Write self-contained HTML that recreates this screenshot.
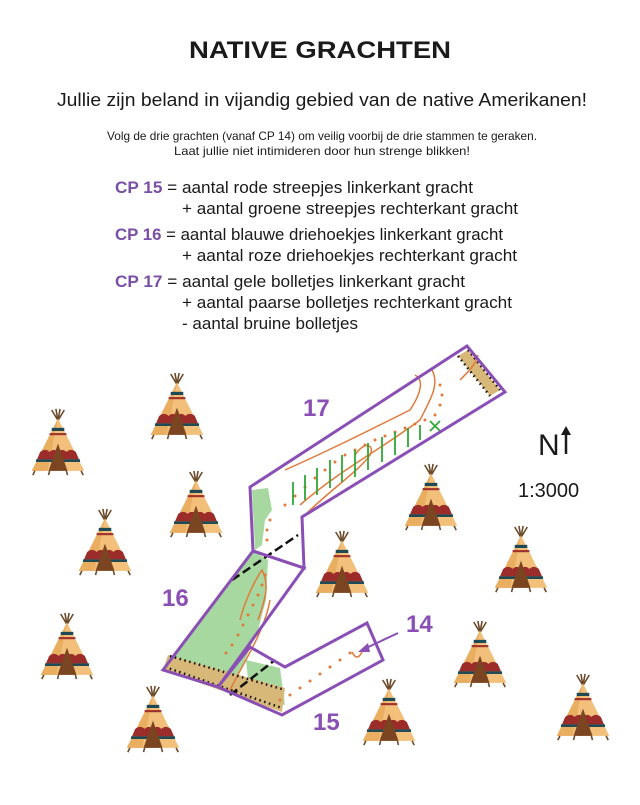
<!DOCTYPE html>
<html><head><meta charset="utf-8"><style>
body{margin:0;background:#fff;}
svg{display:block;font-family:"Liberation Sans",sans-serif;}
</style></head><body>
<svg width="640" height="805" viewBox="0 0 640 805" xmlns="http://www.w3.org/2000/svg">
<defs>
<g id="tp0">
 <line x1="0" y1="-30" x2="-6" y2="-40" stroke="#6b4a2a" stroke-width="1.5"/>
 <line x1="0" y1="-30" x2="-2" y2="-41" stroke="#6b4a2a" stroke-width="1.5"/>
 <line x1="0" y1="-30" x2="2" y2="-41" stroke="#6b4a2a" stroke-width="1.5"/>
 <line x1="0" y1="-30" x2="6" y2="-40" stroke="#6b4a2a" stroke-width="1.5"/>
 <polygon points="0,-32 -25,18 25,18" fill="#f2c07a"/>
 <polygon points="0,-32 -25,18 -10,18" fill="#e9ae60"/>
 <rect x="-6" y="-23" width="12" height="3" fill="#1e4a55"/>
 <rect x="-8" y="-18" width="16" height="2" fill="#a0302a"/>
 <path d="M-17,0 Q-12,-4 -8,0 Q-4,-4 0,0 Q4,-4 8,0 Q12,-4 17,0 L20,7 L-20,7Z" fill="#9b2c2a"/>
 <rect x="-21" y="7" width="42" height="2.5" fill="#1e4a55"/>
 <polygon points="0,-8 -9,18 9,18" fill="#7a4520"/>
 <line x1="-22" y1="18" x2="-24" y2="22" stroke="#6b4a2a" stroke-width="1.5"/>
 <line x1="22" y1="18" x2="24" y2="22" stroke="#6b4a2a" stroke-width="1.5"/>
 <line x1="-8" y1="18" x2="-9" y2="22" stroke="#6b4a2a" stroke-width="1.5"/>
 <line x1="8" y1="18" x2="9" y2="22" stroke="#6b4a2a" stroke-width="1.5"/>
</g>
<g id="tp"><use href="#tp0" transform="translate(0,2) scale(1.05)"/></g>
</defs>
<text x="320" y="58" text-anchor="middle" font-size="24" font-weight="bold" fill="#1a1a1a" textLength="262" lengthAdjust="spacingAndGlyphs">NATIVE GRACHTEN</text>
<text x="322" y="106" text-anchor="middle" font-size="18" fill="#1a1a1a" textLength="530" lengthAdjust="spacingAndGlyphs">Jullie zijn beland in vijandig gebied van de native Amerikanen!</text>
<text x="322" y="140" text-anchor="middle" font-size="12" fill="#1a1a1a" textLength="430" lengthAdjust="spacingAndGlyphs">Volg de drie grachten (vanaf CP 14) om veilig voorbij de drie stammen te geraken.</text>
<text x="322" y="155" text-anchor="middle" font-size="12" fill="#1a1a1a" textLength="296" lengthAdjust="spacingAndGlyphs">Laat jullie niet intimideren door hun strenge blikken!</text>
<g font-size="17" fill="#1a1a1a">
<text x="115" y="193" textLength="358" lengthAdjust="spacingAndGlyphs"><tspan fill="#7a4fa6" font-weight="bold">CP 15</tspan> = aantal rode streepjes linkerkant gracht</text>
<text x="182" y="214" textLength="336" lengthAdjust="spacingAndGlyphs">+ aantal groene streepjes rechterkant gracht</text>
<text x="115" y="240" textLength="388" lengthAdjust="spacingAndGlyphs"><tspan fill="#7a4fa6" font-weight="bold">CP 16</tspan> = aantal blauwe driehoekjes linkerkant gracht</text>
<text x="182" y="261" textLength="335" lengthAdjust="spacingAndGlyphs">+ aantal roze driehoekjes rechterkant gracht</text>
<text x="115" y="287" textLength="350" lengthAdjust="spacingAndGlyphs"><tspan fill="#7a4fa6" font-weight="bold">CP 17</tspan> = aantal gele bolletjes linkerkant gracht</text>
<text x="182" y="308" textLength="330" lengthAdjust="spacingAndGlyphs">+ aantal paarse bolletjes rechterkant gracht</text>
<text x="182" y="329" textLength="176" lengthAdjust="spacingAndGlyphs">- aantal bruine bolletjes</text>
</g>
<use href="#tp" x="58" y="450"/>
<use href="#tp" x="177" y="414"/>
<use href="#tp" x="196" y="512"/>
<use href="#tp" x="105" y="550"/>
<use href="#tp" x="67" y="654"/>
<use href="#tp" x="153" y="727"/>
<use href="#tp" x="342" y="572"/>
<use href="#tp" x="431" y="505"/>
<use href="#tp" x="521" y="567"/>
<use href="#tp" x="480" y="662"/>
<use href="#tp" x="389" y="720"/>
<use href="#tp" x="583" y="715"/>
<polygon points="252,490 268,488 272,510 265,520 262,545 255,550" fill="#a7d8a0"/>
<polygon points="253,551 268,560 266,600 258,630 245,660 230,690 218,687 163,670" fill="#a7d8a0"/>
<polygon points="246,660 280,668 285,705 250,698" fill="#a7d8a0"/>
<polygon points="468,350 500,390 490,396 458,356" fill="#d8b878"/>
<polygon points="163,670 168,655 285,688 282,712" fill="#d8b878"/>
<g fill="none" stroke="#e07a3a" stroke-width="1.5">
<path d="M300,505 C340,470 380,450 420,420 C430,400 440,385 432,370"/>
<path d="M285,470 C330,450 370,430 410,410 C420,395 425,380 415,375"/>
<path d="M305,515 C330,490 360,470 370,455 C375,445 365,440 355,455"/>
<path d="M258,620 C265,600 270,585 262,570 C255,580 245,600 240,620"/>
<path d="M230,690 C245,660 265,630 270,600"/>
<path d="M460,380 C470,370 475,365 478,355"/>
</g>
<g fill="#e07a3a">
<circle cx="440" cy="385" r="1.5"/><circle cx="442" cy="395" r="1.5"/><circle cx="440" cy="405" r="1.5"/><circle cx="435" cy="415" r="1.5"/><circle cx="425" cy="420" r="1.5"/><circle cx="415" cy="424" r="1.5"/><circle cx="405" cy="428" r="1.5"/><circle cx="395" cy="432" r="1.5"/><circle cx="385" cy="436" r="1.5"/><circle cx="375" cy="440" r="1.5"/><circle cx="365" cy="445" r="1.5"/><circle cx="355" cy="450" r="1.5"/><circle cx="345" cy="455" r="1.5"/><circle cx="335" cy="462" r="1.5"/><circle cx="325" cy="470" r="1.5"/><circle cx="315" cy="478" r="1.5"/><circle cx="305" cy="487" r="1.5"/><circle cx="295" cy="496" r="1.5"/><circle cx="285" cy="505" r="1.5"/><circle cx="270" cy="520" r="1.5"/><circle cx="267" cy="530" r="1.5"/><circle cx="267" cy="540" r="1.5"/>
<circle cx="265" cy="575" r="1.5"/><circle cx="262" cy="585" r="1.5"/><circle cx="258" cy="595" r="1.5"/><circle cx="253" cy="605" r="1.5"/><circle cx="248" cy="615" r="1.5"/><circle cx="243" cy="625" r="1.5"/><circle cx="238" cy="635" r="1.5"/><circle cx="232" cy="645" r="1.5"/><circle cx="226" cy="653" r="1.5"/>
<circle cx="350" cy="653" r="1.5"/><circle cx="340" cy="660" r="1.5"/><circle cx="330" cy="667" r="1.5"/><circle cx="320" cy="674" r="1.5"/><circle cx="310" cy="681" r="1.5"/><circle cx="300" cy="688" r="1.5"/><circle cx="290" cy="695" r="1.5"/><circle cx="280" cy="700" r="1.5"/>
</g>
<g stroke="#2fa836" stroke-width="1.8">
<line x1="293" y1="482" x2="293" y2="505"/><line x1="305" y1="475" x2="305" y2="500"/><line x1="317" y1="468" x2="317" y2="495"/><line x1="330" y1="460" x2="330" y2="488"/><line x1="342" y1="455" x2="342" y2="482"/><line x1="355" y1="450" x2="355" y2="477"/><line x1="368" y1="443" x2="368" y2="470"/><line x1="382" y1="437" x2="382" y2="462"/><line x1="395" y1="432" x2="395" y2="455"/><line x1="408" y1="428" x2="408" y2="447"/><line x1="420" y1="425" x2="420" y2="440"/>
<line x1="430" y1="421" x2="440" y2="431"/><line x1="440" y1="421" x2="430" y2="431"/>
</g>
<g stroke="#111" stroke-width="2.5" stroke-dasharray="9,4">
<line x1="232" y1="580" x2="298" y2="535"/>
<line x1="230" y1="695" x2="275" y2="660"/>
</g>
<g stroke="#111" stroke-width="2.5" stroke-dasharray="1.5,3.5" fill="none">
<line x1="458" y1="356" x2="490" y2="396"/><line x1="468" y1="350" x2="500" y2="390"/>
<line x1="170" y1="656" x2="285" y2="690"/><line x1="165" y1="667" x2="282" y2="708"/>
</g>
<g fill="none" stroke="#8a4fb5" stroke-width="3" stroke-linejoin="miter">
<polygon points="250,487 467,346 505,392 302,517 304,568 253,551"/>
<polygon points="253,551 304,568 250,643 218,687 163,670"/>
<polygon points="250,647 285,667 367,623 383,660 282,715 218,687"/>
</g>
<path d="M352,652 Q357,662 362,652" fill="none" stroke="#e07a3a" stroke-width="1.5"/>
<line x1="398" y1="633" x2="362" y2="650" stroke="#8a4fb5" stroke-width="2"/>
<polygon points="358,652 368,643 370,652" fill="#8a4fb5"/>
<g font-size="24" font-weight="bold" fill="#8a4fb5">
<text x="303" y="416">17</text>
<text x="162" y="606">16</text>
<text x="406" y="632">14</text>
<text x="313" y="730">15</text>
</g>
<text x="538" y="455" font-size="30" fill="#1a1a1a">N</text>
<line x1="566" y1="454" x2="566" y2="432" stroke="#1a1a1a" stroke-width="2.5"/>
<polygon points="561,435 566,426 571,435" fill="#1a1a1a"/>
<text x="518" y="497" font-size="20" fill="#1a1a1a">1:3000</text>
</svg>
</body></html>
